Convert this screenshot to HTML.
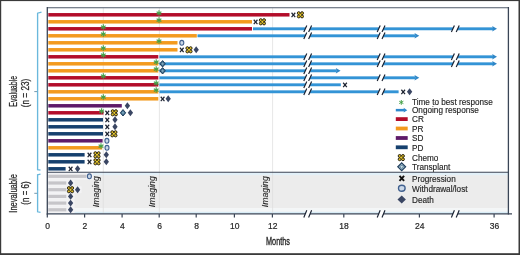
<!DOCTYPE html>
<html><head><meta charset="utf-8"><style>
html,body{margin:0;padding:0;background:#fff;}
body{width:520px;height:255px;overflow:hidden;}
svg{display:block;font-family:"Liberation Sans",sans-serif;}
svg{will-change:transform;}
</style></head><body>
<svg width="520" height="255" viewBox="0 0 520 255">
<rect x="0" y="0" width="520" height="255" fill="#fff"/>
<rect x="47.3" y="172.5" width="461.1" height="35.8" fill="#ececec"/>
<rect x="47.3" y="172.8" width="461.1" height="2.3" fill="#e2f0f8"/>
<rect x="47.3" y="208.3" width="461.1" height="3.6" fill="#f3f6f7"/>
<rect x="47.3" y="211.8" width="461.1" height="1.6" fill="#d8ecf6"/>
<line x1="103.3" y1="8" x2="103.3" y2="213" stroke="#dcdcdc" stroke-width="0.7"/>
<line x1="159.4" y1="8" x2="159.4" y2="213" stroke="#dcdcdc" stroke-width="0.7"/>
<line x1="272.6" y1="8" x2="272.6" y2="213" stroke="#dcdcdc" stroke-width="0.7"/>
<text transform="translate(98.6,191.7) rotate(-90) scale(0.95,1)" text-anchor="middle" font-style="italic" font-size="9.2" fill="#262626" stroke="#262626" stroke-width="0.1">Imaging</text>
<text transform="translate(155.10000000000002,191.7) rotate(-90) scale(0.95,1)" text-anchor="middle" font-style="italic" font-size="9.2" fill="#262626" stroke="#262626" stroke-width="0.1">Imaging</text>
<text transform="translate(268.2,191.7) rotate(-90) scale(0.95,1)" text-anchor="middle" font-style="italic" font-size="9.2" fill="#262626" stroke="#262626" stroke-width="0.1">Imaging</text>
<rect x="48.3" y="13.05" width="241.20" height="3.5" fill="#b30d2a"/>
<rect x="48.3" y="20.05" width="203.70" height="3.5" fill="#f39a1e"/>
<rect x="48.3" y="27.05" width="203.70" height="3.5" fill="#b30d2a"/>
<rect x="48.3" y="34.05" width="148.50" height="3.5" fill="#f39a1e"/>
<rect x="48.3" y="41.05" width="129.20" height="3.5" fill="#f39a1e"/>
<rect x="48.3" y="48.05" width="129.20" height="3.5" fill="#f39a1e"/>
<rect x="48.3" y="55.05" width="110.00" height="3.5" fill="#b30d2a"/>
<rect x="48.3" y="62.05" width="110.00" height="3.5" fill="#f39a1e"/>
<rect x="48.3" y="69.05" width="110.00" height="3.5" fill="#f39a1e"/>
<rect x="48.3" y="76.05" width="110.00" height="3.5" fill="#b30d2a"/>
<rect x="48.3" y="83.05" width="110.00" height="3.5" fill="#b30d2a"/>
<rect x="48.3" y="90.05" width="110.00" height="3.5" fill="#f39a1e"/>
<rect x="48.3" y="97.05" width="110.00" height="3.5" fill="#f39a1e"/>
<rect x="48.3" y="104.05" width="73.50" height="3.5" fill="#5e1a69"/>
<rect x="48.3" y="111.05" width="55.20" height="3.5" fill="#b30d2a"/>
<rect x="48.3" y="118.05" width="54.70" height="3.5" fill="#16406e"/>
<rect x="48.3" y="125.05" width="54.70" height="3.5" fill="#16406e"/>
<rect x="48.3" y="132.05" width="54.70" height="3.5" fill="#16406e"/>
<rect x="48.3" y="139.05" width="54.30" height="3.5" fill="#5e1a69"/>
<rect x="48.3" y="146.05" width="53.90" height="3.5" fill="#f39a1e"/>
<rect x="48.3" y="153.05" width="36.30" height="3.5" fill="#16406e"/>
<rect x="48.3" y="160.05" width="36.30" height="3.5" fill="#16406e"/>
<rect x="48.3" y="167.05" width="17.30" height="3.5" fill="#16406e"/>
<rect x="47.3" y="172.93" width="45.70" height="6.74" fill="#f3f3f5"/>
<rect x="47.3" y="179.63" width="27.20" height="6.74" fill="#f3f3f5"/>
<rect x="47.3" y="186.33" width="34.20" height="6.74" fill="#f3f3f5"/>
<rect x="47.3" y="193.03" width="27.20" height="6.74" fill="#f3f3f5"/>
<rect x="47.3" y="199.73" width="27.20" height="6.74" fill="#f3f3f5"/>
<rect x="47.3" y="206.43" width="27.20" height="6.74" fill="#f3f3f5"/>
<rect x="48.3" y="174.70" width="38.20" height="3.2" fill="#c6c5c9"/>
<rect x="48.3" y="181.40" width="18.00" height="3.2" fill="#c6c5c9"/>
<rect x="48.3" y="188.10" width="18.00" height="3.2" fill="#c6c5c9"/>
<rect x="48.3" y="194.80" width="18.00" height="3.2" fill="#c6c5c9"/>
<rect x="48.3" y="201.50" width="18.00" height="3.2" fill="#c6c5c9"/>
<rect x="48.3" y="208.20" width="18.00" height="3.2" fill="#c6c5c9"/>
<rect x="253" y="27.35" width="240.20" height="2.9" fill="#3394d6"/>
<path d="M492.20 26.00L497 28.80L492.20 31.60L493.10 28.80Z" fill="#2f86c6"/>
<path d="M303.79999999999995 32.1L306.79999999999995 25.5L311.59999999999997 25.5L308.59999999999997 32.1Z" fill="#fff"/>
<g stroke="#182030" stroke-width="1.15"><line x1="303.79999999999995" y1="32.1" x2="306.79999999999995" y2="25.5"/><line x1="308.59999999999997" y1="32.1" x2="311.59999999999997" y2="25.5"/></g>
<path d="M377.2 32.1L380.2 25.5L385.0 25.5L382.0 32.1Z" fill="#fff"/>
<g stroke="#182030" stroke-width="1.15"><line x1="377.2" y1="32.1" x2="380.2" y2="25.5"/><line x1="382.0" y1="32.1" x2="385.0" y2="25.5"/></g>
<path d="M451.4 32.1L454.4 25.5L459.2 25.5L456.2 32.1Z" fill="#fff"/>
<g stroke="#182030" stroke-width="1.15"><line x1="451.4" y1="32.1" x2="454.4" y2="25.5"/><line x1="456.2" y1="32.1" x2="459.2" y2="25.5"/></g>
<rect x="197.5" y="34.35" width="218.00" height="2.9" fill="#3394d6"/>
<path d="M414.50 33.00L419.3 35.80L414.50 38.60L415.40 35.80Z" fill="#2f86c6"/>
<path d="M303.79999999999995 39.099999999999994L306.79999999999995 32.5L311.59999999999997 32.5L308.59999999999997 39.099999999999994Z" fill="#fff"/>
<g stroke="#182030" stroke-width="1.15"><line x1="303.79999999999995" y1="39.099999999999994" x2="306.79999999999995" y2="32.5"/><line x1="308.59999999999997" y1="39.099999999999994" x2="311.59999999999997" y2="32.5"/></g>
<path d="M377.2 39.099999999999994L380.2 32.5L385.0 32.5L382.0 39.099999999999994Z" fill="#fff"/>
<g stroke="#182030" stroke-width="1.15"><line x1="377.2" y1="39.099999999999994" x2="380.2" y2="32.5"/><line x1="382.0" y1="39.099999999999994" x2="385.0" y2="32.5"/></g>
<rect x="159.4" y="55.35" width="333.80" height="2.9" fill="#3394d6"/>
<path d="M492.20 54.00L497 56.80L492.20 59.60L493.10 56.80Z" fill="#2f86c6"/>
<path d="M303.79999999999995 60.099999999999994L306.79999999999995 53.5L311.59999999999997 53.5L308.59999999999997 60.099999999999994Z" fill="#fff"/>
<g stroke="#182030" stroke-width="1.15"><line x1="303.79999999999995" y1="60.099999999999994" x2="306.79999999999995" y2="53.5"/><line x1="308.59999999999997" y1="60.099999999999994" x2="311.59999999999997" y2="53.5"/></g>
<path d="M377.2 60.099999999999994L380.2 53.5L385.0 53.5L382.0 60.099999999999994Z" fill="#fff"/>
<g stroke="#182030" stroke-width="1.15"><line x1="377.2" y1="60.099999999999994" x2="380.2" y2="53.5"/><line x1="382.0" y1="60.099999999999994" x2="385.0" y2="53.5"/></g>
<path d="M451.4 60.099999999999994L454.4 53.5L459.2 53.5L456.2 60.099999999999994Z" fill="#fff"/>
<g stroke="#182030" stroke-width="1.15"><line x1="451.4" y1="60.099999999999994" x2="454.4" y2="53.5"/><line x1="456.2" y1="60.099999999999994" x2="459.2" y2="53.5"/></g>
<rect x="159.4" y="62.35" width="333.80" height="2.9" fill="#3394d6"/>
<path d="M492.20 61.00L497 63.80L492.20 66.60L493.10 63.80Z" fill="#2f86c6"/>
<path d="M303.79999999999995 67.1L306.79999999999995 60.5L311.59999999999997 60.5L308.59999999999997 67.1Z" fill="#fff"/>
<g stroke="#182030" stroke-width="1.15"><line x1="303.79999999999995" y1="67.1" x2="306.79999999999995" y2="60.5"/><line x1="308.59999999999997" y1="67.1" x2="311.59999999999997" y2="60.5"/></g>
<path d="M377.2 67.1L380.2 60.5L385.0 60.5L382.0 67.1Z" fill="#fff"/>
<g stroke="#182030" stroke-width="1.15"><line x1="377.2" y1="67.1" x2="380.2" y2="60.5"/><line x1="382.0" y1="67.1" x2="385.0" y2="60.5"/></g>
<path d="M451.4 67.1L454.4 60.5L459.2 60.5L456.2 67.1Z" fill="#fff"/>
<g stroke="#182030" stroke-width="1.15"><line x1="451.4" y1="67.1" x2="454.4" y2="60.5"/><line x1="456.2" y1="67.1" x2="459.2" y2="60.5"/></g>
<rect x="159.4" y="69.35" width="177.40" height="2.9" fill="#3394d6"/>
<path d="M335.80 68.00L340.6 70.80L335.80 73.60L336.70 70.80Z" fill="#2f86c6"/>
<path d="M303.79999999999995 74.1L306.79999999999995 67.5L311.59999999999997 67.5L308.59999999999997 74.1Z" fill="#fff"/>
<g stroke="#182030" stroke-width="1.15"><line x1="303.79999999999995" y1="74.1" x2="306.79999999999995" y2="67.5"/><line x1="308.59999999999997" y1="74.1" x2="311.59999999999997" y2="67.5"/></g>
<rect x="159.4" y="76.35" width="256.10" height="2.9" fill="#3394d6"/>
<path d="M414.50 75.00L419.3 77.80L414.50 80.60L415.40 77.80Z" fill="#2f86c6"/>
<path d="M303.79999999999995 81.1L306.79999999999995 74.5L311.59999999999997 74.5L308.59999999999997 81.1Z" fill="#fff"/>
<g stroke="#182030" stroke-width="1.15"><line x1="303.79999999999995" y1="81.1" x2="306.79999999999995" y2="74.5"/><line x1="308.59999999999997" y1="81.1" x2="311.59999999999997" y2="74.5"/></g>
<path d="M377.2 81.1L380.2 74.5L385.0 74.5L382.0 81.1Z" fill="#fff"/>
<g stroke="#182030" stroke-width="1.15"><line x1="377.2" y1="81.1" x2="380.2" y2="74.5"/><line x1="382.0" y1="81.1" x2="385.0" y2="74.5"/></g>
<rect x="159.4" y="83.35" width="181.40" height="2.9" fill="#3394d6"/>
<path d="M303.79999999999995 88.1L306.79999999999995 81.5L311.59999999999997 81.5L308.59999999999997 88.1Z" fill="#fff"/>
<g stroke="#182030" stroke-width="1.15"><line x1="303.79999999999995" y1="88.1" x2="306.79999999999995" y2="81.5"/><line x1="308.59999999999997" y1="88.1" x2="311.59999999999997" y2="81.5"/></g>
<rect x="159.4" y="90.35" width="239.20" height="2.9" fill="#3394d6"/>
<path d="M303.79999999999995 95.1L306.79999999999995 88.5L311.59999999999997 88.5L308.59999999999997 95.1Z" fill="#fff"/>
<g stroke="#182030" stroke-width="1.15"><line x1="303.79999999999995" y1="95.1" x2="306.79999999999995" y2="88.5"/><line x1="308.59999999999997" y1="95.1" x2="311.59999999999997" y2="88.5"/></g>
<path d="M377.2 95.1L380.2 88.5L385.0 88.5L382.0 95.1Z" fill="#fff"/>
<g stroke="#182030" stroke-width="1.15"><line x1="377.2" y1="95.1" x2="380.2" y2="88.5"/><line x1="382.0" y1="95.1" x2="385.0" y2="88.5"/></g>
<g stroke="#43a047" stroke-width="1.1" stroke-linecap="butt"><line x1="159" y1="10.350000000000001" x2="159" y2="15.850000000000001"/><line x1="156.62" y1="11.73" x2="161.38" y2="14.48"/><line x1="156.62" y1="14.48" x2="161.38" y2="11.73"/></g>
<g stroke="#43a047" stroke-width="1.1" stroke-linecap="butt"><line x1="159" y1="17.35" x2="159" y2="22.85"/><line x1="156.62" y1="18.73" x2="161.38" y2="21.48"/><line x1="156.62" y1="21.48" x2="161.38" y2="18.73"/></g>
<g stroke="#43a047" stroke-width="1.1" stroke-linecap="butt"><line x1="103.3" y1="24.35" x2="103.3" y2="29.85"/><line x1="100.92" y1="25.73" x2="105.68" y2="28.48"/><line x1="100.92" y1="28.48" x2="105.68" y2="25.73"/></g>
<g stroke="#43a047" stroke-width="1.1" stroke-linecap="butt"><line x1="103.3" y1="31.349999999999994" x2="103.3" y2="36.849999999999994"/><line x1="100.92" y1="32.72" x2="105.68" y2="35.47"/><line x1="100.92" y1="35.47" x2="105.68" y2="32.72"/></g>
<g stroke="#43a047" stroke-width="1.1" stroke-linecap="butt"><line x1="159" y1="38.349999999999994" x2="159" y2="43.849999999999994"/><line x1="156.62" y1="39.72" x2="161.38" y2="42.47"/><line x1="156.62" y1="42.47" x2="161.38" y2="39.72"/></g>
<g stroke="#43a047" stroke-width="1.1" stroke-linecap="butt"><line x1="103.3" y1="45.349999999999994" x2="103.3" y2="50.849999999999994"/><line x1="100.92" y1="46.72" x2="105.68" y2="49.47"/><line x1="100.92" y1="49.47" x2="105.68" y2="46.72"/></g>
<g stroke="#43a047" stroke-width="1.1" stroke-linecap="butt"><line x1="103.3" y1="52.349999999999994" x2="103.3" y2="57.849999999999994"/><line x1="100.92" y1="53.72" x2="105.68" y2="56.47"/><line x1="100.92" y1="56.47" x2="105.68" y2="53.72"/></g>
<g stroke="#43a047" stroke-width="1.1" stroke-linecap="butt"><line x1="156.2" y1="59.349999999999994" x2="156.2" y2="64.85"/><line x1="153.82" y1="60.72" x2="158.58" y2="63.47"/><line x1="153.82" y1="63.47" x2="158.58" y2="60.72"/></g>
<g stroke="#43a047" stroke-width="1.1" stroke-linecap="butt"><line x1="156.2" y1="66.35" x2="156.2" y2="71.85"/><line x1="153.82" y1="67.72" x2="158.58" y2="70.47"/><line x1="153.82" y1="70.47" x2="158.58" y2="67.72"/></g>
<g stroke="#43a047" stroke-width="1.1" stroke-linecap="butt"><line x1="103.3" y1="73.35" x2="103.3" y2="78.85"/><line x1="100.92" y1="74.72" x2="105.68" y2="77.47"/><line x1="100.92" y1="77.47" x2="105.68" y2="74.72"/></g>
<g stroke="#43a047" stroke-width="1.1" stroke-linecap="butt"><line x1="156.2" y1="80.35" x2="156.2" y2="85.85"/><line x1="153.82" y1="81.72" x2="158.58" y2="84.47"/><line x1="153.82" y1="84.47" x2="158.58" y2="81.72"/></g>
<g stroke="#43a047" stroke-width="1.1" stroke-linecap="butt"><line x1="156.2" y1="87.35" x2="156.2" y2="92.85"/><line x1="153.82" y1="88.72" x2="158.58" y2="91.47"/><line x1="153.82" y1="91.47" x2="158.58" y2="88.72"/></g>
<g stroke="#43a047" stroke-width="1.1" stroke-linecap="butt"><line x1="103.3" y1="94.35" x2="103.3" y2="99.85"/><line x1="100.92" y1="95.72" x2="105.68" y2="98.47"/><line x1="100.92" y1="98.47" x2="105.68" y2="95.72"/></g>
<g stroke="#43a047" stroke-width="1.1" stroke-linecap="butt"><line x1="101.6" y1="108.35" x2="101.6" y2="113.85"/><line x1="99.22" y1="109.72" x2="103.98" y2="112.47"/><line x1="99.22" y1="112.47" x2="103.98" y2="109.72"/></g>
<g stroke="#43a047" stroke-width="1.1" stroke-linecap="butt"><line x1="101" y1="143.35000000000002" x2="101" y2="148.85000000000002"/><line x1="98.62" y1="144.73" x2="103.38" y2="147.48"/><line x1="98.62" y1="147.48" x2="103.38" y2="144.73"/></g>
<g stroke="#1c2230" stroke-width="1.2"><line x1="291.54999999999995" y1="12.75" x2="295.25" y2="17.05"/><line x1="291.54999999999995" y1="17.05" x2="295.25" y2="12.75"/></g>
<circle cx="298.75" cy="13.15" r="1.45" fill="#dcbc2c" stroke="#231d0e" stroke-width="0.95"/><circle cx="302.05" cy="13.15" r="1.45" fill="#dcbc2c" stroke="#231d0e" stroke-width="0.95"/><circle cx="298.75" cy="16.45" r="1.45" fill="#dcbc2c" stroke="#231d0e" stroke-width="0.95"/><circle cx="302.05" cy="16.45" r="1.45" fill="#dcbc2c" stroke="#231d0e" stroke-width="0.95"/><circle cx="300.4" cy="14.8" r="1.00" fill="#f3d21e"/>
<g stroke="#1c2230" stroke-width="1.2"><line x1="253.75" y1="19.750000000000004" x2="257.45" y2="24.05"/><line x1="253.75" y1="24.05" x2="257.45" y2="19.750000000000004"/></g>
<circle cx="260.75" cy="20.15" r="1.45" fill="#dcbc2c" stroke="#231d0e" stroke-width="0.95"/><circle cx="264.05" cy="20.15" r="1.45" fill="#dcbc2c" stroke="#231d0e" stroke-width="0.95"/><circle cx="260.75" cy="23.45" r="1.45" fill="#dcbc2c" stroke="#231d0e" stroke-width="0.95"/><circle cx="264.05" cy="23.45" r="1.45" fill="#dcbc2c" stroke="#231d0e" stroke-width="0.95"/><circle cx="262.4" cy="21.8" r="1.00" fill="#f3d21e"/>
<ellipse cx="181.8" cy="42.8" rx="2.0" ry="2.45" fill="#cbd8e8" stroke="#40608f" stroke-width="1.1"/>
<g stroke="#1c2230" stroke-width="1.2"><line x1="179.95000000000002" y1="47.75" x2="183.65" y2="52.05"/><line x1="179.95000000000002" y1="52.05" x2="183.65" y2="47.75"/></g>
<circle cx="187.35" cy="48.15" r="1.45" fill="#dcbc2c" stroke="#231d0e" stroke-width="0.95"/><circle cx="190.65" cy="48.15" r="1.45" fill="#dcbc2c" stroke="#231d0e" stroke-width="0.95"/><circle cx="187.35" cy="51.45" r="1.45" fill="#dcbc2c" stroke="#231d0e" stroke-width="0.95"/><circle cx="190.65" cy="51.45" r="1.45" fill="#dcbc2c" stroke="#231d0e" stroke-width="0.95"/><circle cx="189" cy="49.8" r="1.00" fill="#f3d21e"/>
<path d="M196.2 46.349999999999994L198.85 49.8L196.2 53.25L193.54999999999998 49.8Z" fill="#3a4663"/>
<path d="M162.6 60.599999999999994L165.29999999999998 63.8L162.6 67.0L159.9 63.8Z" fill="#44728f" stroke="#1f3d5c" stroke-width="1.0"/>
<path d="M162.6 62.36L163.815 63.8L162.6 65.24L161.385 63.8Z" fill="#7ea6bd"/>
<path d="M162.6 67.6L165.29999999999998 70.8L162.6 74.0L159.9 70.8Z" fill="#44728f" stroke="#1f3d5c" stroke-width="1.0"/>
<path d="M162.6 69.36L163.815 70.8L162.6 72.24L161.385 70.8Z" fill="#7ea6bd"/>
<g stroke="#1c2230" stroke-width="1.2"><line x1="343.15" y1="82.74999999999999" x2="346.85" y2="87.05"/><line x1="343.15" y1="87.05" x2="346.85" y2="82.74999999999999"/></g>
<g stroke="#1c2230" stroke-width="1.2"><line x1="401.34999999999997" y1="89.74999999999999" x2="405.05" y2="94.05"/><line x1="401.34999999999997" y1="94.05" x2="405.05" y2="89.74999999999999"/></g>
<path d="M409.6 88.35L412.25 91.8L409.6 95.25L406.95000000000005 91.8Z" fill="#3a4663"/>
<g stroke="#1c2230" stroke-width="1.2"><line x1="160.75" y1="96.74999999999999" x2="164.45" y2="101.05"/><line x1="160.75" y1="101.05" x2="164.45" y2="96.74999999999999"/></g>
<path d="M168.2 95.35L170.85 98.8L168.2 102.25L165.54999999999998 98.8Z" fill="#3a4663"/>
<path d="M127.4 102.35L130.05 105.8L127.4 109.25L124.75 105.8Z" fill="#3a4663"/>
<g stroke="#1c2230" stroke-width="1.2"><line x1="105.45" y1="110.74999999999999" x2="109.14999999999999" y2="115.05"/><line x1="105.45" y1="115.05" x2="109.14999999999999" y2="110.74999999999999"/></g>
<circle cx="112.65" cy="111.15" r="1.45" fill="#dcbc2c" stroke="#231d0e" stroke-width="0.95"/><circle cx="115.95" cy="111.15" r="1.45" fill="#dcbc2c" stroke="#231d0e" stroke-width="0.95"/><circle cx="112.65" cy="114.45" r="1.45" fill="#dcbc2c" stroke="#231d0e" stroke-width="0.95"/><circle cx="115.95" cy="114.45" r="1.45" fill="#dcbc2c" stroke="#231d0e" stroke-width="0.95"/><circle cx="114.3" cy="112.8" r="1.00" fill="#f3d21e"/>
<path d="M123 109.6L125.7 112.8L123 116.0L120.3 112.8Z" fill="#44728f" stroke="#1f3d5c" stroke-width="1.0"/>
<path d="M123 111.36L124.215 112.8L123 114.24L121.785 112.8Z" fill="#7ea6bd"/>
<path d="M130.4 109.35L133.05 112.8L130.4 116.25L127.75 112.8Z" fill="#3a4663"/>
<g stroke="#1c2230" stroke-width="1.2"><line x1="105.45" y1="117.74999999999999" x2="109.14999999999999" y2="122.05"/><line x1="105.45" y1="122.05" x2="109.14999999999999" y2="117.74999999999999"/></g>
<path d="M115 116.35L117.65 119.8L115 123.25L112.35 119.8Z" fill="#3a4663"/>
<g stroke="#1c2230" stroke-width="1.2"><line x1="105.45" y1="124.74999999999999" x2="109.14999999999999" y2="129.04999999999998"/><line x1="105.45" y1="129.04999999999998" x2="109.14999999999999" y2="124.74999999999999"/></g>
<path d="M115 123.35L117.65 126.8L115 130.25L112.35 126.8Z" fill="#3a4663"/>
<g stroke="#1c2230" stroke-width="1.2"><line x1="105.45" y1="131.75" x2="109.14999999999999" y2="136.05"/><line x1="105.45" y1="136.05" x2="109.14999999999999" y2="131.75"/></g>
<circle cx="112.25" cy="132.15" r="1.45" fill="#dcbc2c" stroke="#231d0e" stroke-width="0.95"/><circle cx="115.55" cy="132.15" r="1.45" fill="#dcbc2c" stroke="#231d0e" stroke-width="0.95"/><circle cx="112.25" cy="135.45" r="1.45" fill="#dcbc2c" stroke="#231d0e" stroke-width="0.95"/><circle cx="115.55" cy="135.45" r="1.45" fill="#dcbc2c" stroke="#231d0e" stroke-width="0.95"/><circle cx="113.9" cy="133.8" r="1.00" fill="#f3d21e"/>
<ellipse cx="106.9" cy="140.8" rx="2.0" ry="2.45" fill="#cbd8e8" stroke="#40608f" stroke-width="1.1"/>
<ellipse cx="107" cy="147.8" rx="2.0" ry="2.45" fill="#cbd8e8" stroke="#40608f" stroke-width="1.1"/>
<g stroke="#1c2230" stroke-width="1.2"><line x1="87.65" y1="152.75" x2="91.35" y2="157.05"/><line x1="87.65" y1="157.05" x2="91.35" y2="152.75"/></g>
<circle cx="95.35" cy="153.15" r="1.45" fill="#dcbc2c" stroke="#231d0e" stroke-width="0.95"/><circle cx="98.65" cy="153.15" r="1.45" fill="#dcbc2c" stroke="#231d0e" stroke-width="0.95"/><circle cx="95.35" cy="156.45" r="1.45" fill="#dcbc2c" stroke="#231d0e" stroke-width="0.95"/><circle cx="98.65" cy="156.45" r="1.45" fill="#dcbc2c" stroke="#231d0e" stroke-width="0.95"/><circle cx="97" cy="154.8" r="1.00" fill="#f3d21e"/>
<path d="M106.3 151.35000000000002L108.95 154.8L106.3 158.25L103.64999999999999 154.8Z" fill="#3a4663"/>
<g stroke="#1c2230" stroke-width="1.2"><line x1="87.65" y1="159.75" x2="91.35" y2="164.05"/><line x1="87.65" y1="164.05" x2="91.35" y2="159.75"/></g>
<circle cx="95.35" cy="160.15" r="1.45" fill="#dcbc2c" stroke="#231d0e" stroke-width="0.95"/><circle cx="98.65" cy="160.15" r="1.45" fill="#dcbc2c" stroke="#231d0e" stroke-width="0.95"/><circle cx="95.35" cy="163.45" r="1.45" fill="#dcbc2c" stroke="#231d0e" stroke-width="0.95"/><circle cx="98.65" cy="163.45" r="1.45" fill="#dcbc2c" stroke="#231d0e" stroke-width="0.95"/><circle cx="97" cy="161.8" r="1.00" fill="#f3d21e"/>
<path d="M106.3 158.35000000000002L108.95 161.8L106.3 165.25L103.64999999999999 161.8Z" fill="#3a4663"/>
<g stroke="#1c2230" stroke-width="1.2"><line x1="68.75" y1="166.75" x2="72.44999999999999" y2="171.05"/><line x1="68.75" y1="171.05" x2="72.44999999999999" y2="166.75"/></g>
<path d="M77.6 165.35000000000002L80.25 168.8L77.6 172.25L74.94999999999999 168.8Z" fill="#3a4663"/>
<ellipse cx="89.4" cy="176.3" rx="2.0" ry="2.45" fill="#cbd8e8" stroke="#40608f" stroke-width="1.1"/>
<path d="M70.6 179.55L73.25 183.0L70.6 186.45L67.94999999999999 183.0Z" fill="#3a4663"/>
<circle cx="68.85" cy="188.05" r="1.45" fill="#dcbc2c" stroke="#231d0e" stroke-width="0.95"/><circle cx="72.15" cy="188.05" r="1.45" fill="#dcbc2c" stroke="#231d0e" stroke-width="0.95"/><circle cx="68.85" cy="191.35" r="1.45" fill="#dcbc2c" stroke="#231d0e" stroke-width="0.95"/><circle cx="72.15" cy="191.35" r="1.45" fill="#dcbc2c" stroke="#231d0e" stroke-width="0.95"/><circle cx="70.5" cy="189.70000000000002" r="1.00" fill="#f3d21e"/>
<path d="M77.6 186.25000000000003L80.25 189.70000000000002L77.6 193.15L74.94999999999999 189.70000000000002Z" fill="#3a4663"/>
<path d="M70.6 192.95000000000002L73.25 196.4L70.6 199.85L67.94999999999999 196.4Z" fill="#3a4663"/>
<path d="M70.6 199.65000000000003L73.25 203.10000000000002L70.6 206.55L67.94999999999999 203.10000000000002Z" fill="#3a4663"/>
<path d="M70.6 206.35000000000002L73.25 209.8L70.6 213.25L67.94999999999999 209.8Z" fill="#3a4663"/>
<line x1="47.3" y1="7.7" x2="508.4" y2="7.7" stroke="#4e5868" stroke-width="1.1"/>
<line x1="47.3" y1="7" x2="47.3" y2="214.6" stroke="#3a4556" stroke-width="1.3"/>
<line x1="508.4" y1="7" x2="508.4" y2="214.5" stroke="#3a4556" stroke-width="1.3"/>
<line x1="47.3" y1="172.2" x2="508.4" y2="172.2" stroke="#3a4556" stroke-width="1.1"/>
<line x1="46.7" y1="213.9" x2="512" y2="213.9" stroke="#3a4556" stroke-width="1.4"/>
<path d="M303.79999999999995 217.5L306.79999999999995 210.3L311.59999999999997 210.3L308.59999999999997 217.5Z" fill="#fff"/>
<g stroke="#182030" stroke-width="1.15"><line x1="303.79999999999995" y1="217.5" x2="306.79999999999995" y2="210.3"/><line x1="308.59999999999997" y1="217.5" x2="311.59999999999997" y2="210.3"/></g>
<path d="M377.2 217.5L380.2 210.3L385.0 210.3L382.0 217.5Z" fill="#fff"/>
<g stroke="#182030" stroke-width="1.15"><line x1="377.2" y1="217.5" x2="380.2" y2="210.3"/><line x1="382.0" y1="217.5" x2="385.0" y2="210.3"/></g>
<path d="M451.4 217.5L454.4 210.3L459.2 210.3L456.2 217.5Z" fill="#fff"/>
<g stroke="#182030" stroke-width="1.15"><line x1="451.4" y1="217.5" x2="454.4" y2="210.3"/><line x1="456.2" y1="217.5" x2="459.2" y2="210.3"/></g>
<line x1="47.3" y1="213.9" x2="47.3" y2="217.4" stroke="#3a4556" stroke-width="1.2"/>
<text x="47.599999999999994" y="229.1" text-anchor="middle" font-size="8.5" fill="#262626" stroke="#262626" stroke-width="0.2">0</text>
<line x1="84.6" y1="213.9" x2="84.6" y2="217.4" stroke="#3a4556" stroke-width="1.2"/>
<text x="84.89999999999999" y="229.1" text-anchor="middle" font-size="8.5" fill="#262626" stroke="#262626" stroke-width="0.2">2</text>
<line x1="122.1" y1="213.9" x2="122.1" y2="217.4" stroke="#3a4556" stroke-width="1.2"/>
<text x="122.39999999999999" y="229.1" text-anchor="middle" font-size="8.5" fill="#262626" stroke="#262626" stroke-width="0.2">4</text>
<line x1="159.2" y1="213.9" x2="159.2" y2="217.4" stroke="#3a4556" stroke-width="1.2"/>
<text x="159.5" y="229.1" text-anchor="middle" font-size="8.5" fill="#262626" stroke="#262626" stroke-width="0.2">6</text>
<line x1="196.2" y1="213.9" x2="196.2" y2="217.4" stroke="#3a4556" stroke-width="1.2"/>
<text x="196.5" y="229.1" text-anchor="middle" font-size="8.5" fill="#262626" stroke="#262626" stroke-width="0.2">8</text>
<line x1="234.4" y1="213.9" x2="234.4" y2="217.4" stroke="#3a4556" stroke-width="1.2"/>
<text x="234.70000000000002" y="229.1" text-anchor="middle" font-size="8.5" fill="#262626" stroke="#262626" stroke-width="0.2">10</text>
<line x1="272.4" y1="213.9" x2="272.4" y2="217.4" stroke="#3a4556" stroke-width="1.2"/>
<text x="272.7" y="229.1" text-anchor="middle" font-size="8.5" fill="#262626" stroke="#262626" stroke-width="0.2">12</text>
<line x1="343.8" y1="213.9" x2="343.8" y2="217.4" stroke="#3a4556" stroke-width="1.2"/>
<text x="344.1" y="229.1" text-anchor="middle" font-size="8.5" fill="#262626" stroke="#262626" stroke-width="0.2">18</text>
<line x1="419.4" y1="213.9" x2="419.4" y2="217.4" stroke="#3a4556" stroke-width="1.2"/>
<text x="419.7" y="229.1" text-anchor="middle" font-size="8.5" fill="#262626" stroke="#262626" stroke-width="0.2">24</text>
<line x1="494.1" y1="213.9" x2="494.1" y2="217.4" stroke="#3a4556" stroke-width="1.2"/>
<text x="494.40000000000003" y="229.1" text-anchor="middle" font-size="8.5" fill="#262626" stroke="#262626" stroke-width="0.2">36</text>
<text transform="translate(266,244.6) scale(0.69,1)" font-size="10.6" fill="#262626" stroke="#262626" stroke-width="0.35">Months</text>
<text x="412" y="104.8" font-size="8.2" fill="#262626" stroke="#262626" stroke-width="0.15">Time to best response</text>
<text x="412" y="112.5" font-size="8.2" fill="#262626" stroke="#262626" stroke-width="0.15">Ongoing response</text>
<text x="412" y="121.9" font-size="8.2" fill="#262626" stroke="#262626" stroke-width="0.15">CR</text>
<text x="412" y="132" font-size="8.2" fill="#262626" stroke="#262626" stroke-width="0.15">PR</text>
<text x="412" y="141.3" font-size="8.2" fill="#262626" stroke="#262626" stroke-width="0.15">SD</text>
<text x="412" y="150.8" font-size="8.2" fill="#262626" stroke="#262626" stroke-width="0.15">PD</text>
<text x="412" y="160.8" font-size="8.2" fill="#262626" stroke="#262626" stroke-width="0.15">Chemo</text>
<text x="412" y="170.2" font-size="8.2" fill="#262626" stroke="#262626" stroke-width="0.15">Transplant</text>
<text x="412" y="181.6" font-size="8.2" fill="#262626" stroke="#262626" stroke-width="0.15">Progression</text>
<text x="412" y="191.6" font-size="8.2" fill="#262626" stroke="#262626" stroke-width="0.15">Withdrawal/lost</text>
<text x="412" y="202.8" font-size="8.2" fill="#262626" stroke="#262626" stroke-width="0.15">Death</text>
<g stroke="#43a047" stroke-width="0.95" stroke-linecap="butt"><line x1="401.3" y1="100.0" x2="401.3" y2="104.80000000000001"/><line x1="399.22" y1="101.20" x2="403.38" y2="103.60"/><line x1="399.22" y1="103.60" x2="403.38" y2="101.20"/></g>
<rect x="395.8" y="108.9" width="8.6" height="2.5" fill="#2e88cc"/>
<path d="M403.6 107.8L407.3 110.15L403.6 112.5L404.2 110.15Z" fill="#2e88cc"/>
<rect x="395.8" y="117.19999999999999" width="11.9" height="3.8" fill="#b30d2a"/>
<rect x="395.8" y="126.6" width="11.9" height="3.8" fill="#f39a1e"/>
<rect x="395.8" y="136.1" width="11.9" height="3.8" fill="#5e1a69"/>
<rect x="395.8" y="145.4" width="11.9" height="3.8" fill="#16406e"/>
<circle cx="399.65" cy="155.95" r="1.45" fill="#dcbc2c" stroke="#231d0e" stroke-width="0.95"/><circle cx="402.95" cy="155.95" r="1.45" fill="#dcbc2c" stroke="#231d0e" stroke-width="0.95"/><circle cx="399.65" cy="159.25" r="1.45" fill="#dcbc2c" stroke="#231d0e" stroke-width="0.95"/><circle cx="402.95" cy="159.25" r="1.45" fill="#dcbc2c" stroke="#231d0e" stroke-width="0.95"/><circle cx="401.3" cy="157.6" r="1.00" fill="#f3d21e"/>
<path d="M401.7 162.9L405.59999999999997 166.8L401.7 170.70000000000002L397.8 166.8Z" fill="#9dbccd" stroke="#1f3d5c" stroke-width="1.2"/>
<path d="M401.7 165.04500000000002L403.455 166.8L401.7 168.555L399.945 166.8Z" fill="#c9dce6" stroke="#3d6580" stroke-width="0.7"/>
<g stroke="#111" stroke-width="1.9"><line x1="399.5" y1="175.9" x2="404.1" y2="180.9"/><line x1="399.5" y1="180.9" x2="404.1" y2="175.9"/></g>
<ellipse cx="401.8" cy="188.2" rx="3.3" ry="3.0" fill="#cbd8e8" stroke="#40608f" stroke-width="1.4"/>
<path d="M401.7 195.4L405.9 199.4L401.7 203.4L397.5 199.4Z" fill="#3a4663"/>
<path d="M41.5 12.2 L37.6 13.2 L37.6 169.6 L40.5 170.2" fill="none" stroke="#6ab8dc" stroke-width="1.35"/>
<line x1="37.2" y1="91.6" x2="34.3" y2="91.6" stroke="#7398ad" stroke-width="1"/>
<path d="M40.5 174.2 L37.6 174.8 L37.6 211.8 L40.5 212.4" fill="none" stroke="#6ab8dc" stroke-width="1.35"/>
<line x1="37.2" y1="193.3" x2="34.3" y2="193.3" stroke="#7398ad" stroke-width="1"/>
<text transform="translate(16.9,91.3) rotate(-90) scale(0.67,1)" text-anchor="middle" font-size="10.5" fill="#262626" stroke="#262626" stroke-width="0.25">Evaluable</text>
<text transform="translate(28.5,93.0) rotate(-90) scale(0.78,1)" text-anchor="middle" font-size="10.5" fill="#262626" stroke="#262626" stroke-width="0.25">(n = 23)</text>
<text transform="translate(16.9,193.4) rotate(-90) scale(0.72,1)" text-anchor="middle" font-size="10.5" fill="#262626" stroke="#262626" stroke-width="0.25">Inevaluable</text>
<text transform="translate(28.5,193) rotate(-90) scale(0.76,1)" text-anchor="middle" font-size="10.5" fill="#262626" stroke="#262626" stroke-width="0.25">(n = 6)</text>
<rect x="0" y="0" width="520" height="1.1" fill="#3a3a3a"/>
<rect x="0" y="0" width="1.2" height="255" fill="#3a3a3a"/>
<rect x="518.5" y="0" width="1.5" height="255" fill="#3a3a3a"/>
<rect x="0" y="253.2" width="520" height="1.8" fill="#3a3a3a"/>
</svg>
</body></html>
